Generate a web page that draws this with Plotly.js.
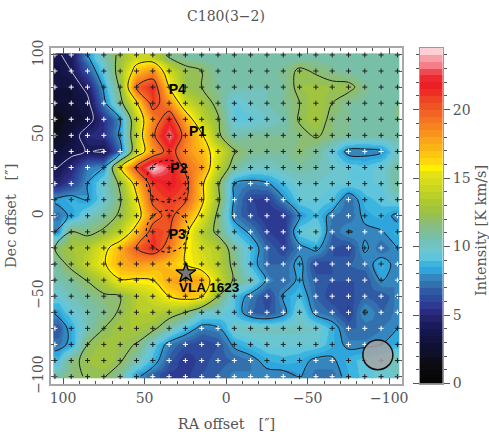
<!DOCTYPE html>
<html><head><meta charset="utf-8">
<script src="https://cdn.plot.ly/plotly-3.0.1.min.js"></script>
<style>html,body{margin:0;padding:0;background:#fff}#c{width:489px;height:434px}</style>
</head><body><div id="c"></div>
<script>
const raOffsets=[105,95,85,75,65,55,45,35,25,15,5,-5,-15,-25,-35,-45,-55,-65,-75,-85,-95,-105];
const decOffsets=[100,90,80,70,60,50,40,30,20,10,0,-10,-20,-30,-40,-50,-60,-70,-80,-90,-100];
const imageRaEdges=[106,100,90,80,70,60,50,40,30,20,10,0,-10,-20,-30,-40,-50,-60,-70,-80,-90,-100,-106];
const imageDecEdges=[101,95,85,75,65,55,45,35,25,15,5,-5,-15,-25,-35,-45,-55,-65,-75,-85,-95,-101];
const intensity=[
[3.8,4.3,8,10.5,12.5,14.5,14,11.5,11,10.8,10.5,10.5,10.5,10.5,10.5,10.8,10.8,10.5,10.5,10.5,10.5,10.5],
[3.3,4,6.5,9.5,13,17,18.5,14.5,12.5,12,10.8,10.5,10.5,10.8,11.2,12.3,11.8,11.2,10.8,10.5,10.5,10.5],
[3,3,4.5,8.3,12.3,20,21.5,16,12.5,12,11,10.5,10.5,10.5,11,12.5,12.7,12.5,12.5,11.2,10.5,10.5],
[2.5,2.8,3.5,7.5,11.3,15.7,21,18.5,14.5,13,11.5,9.3,10,10.5,11,12,13,12,11,10.8,10.5,11],
[1.5,2.5,3.2,5.5,8,14,18.5,21.5,17.5,14,12.2,9.3,9.3,10,10.5,12.2,13,11.5,11,10.8,10.8,11],
[2,3,5,5.5,8.3,14,19.5,23.5,19,16.3,12.3,10.5,11,11,11,11.5,12.2,11.5,11,10.8,10.8,10.8],
[3,3.5,4.1,3.8,7.3,14,18,21,18.5,17,15,12.2,11.2,11,11,11.7,11,9.5,7.5,7.5,7.8,10],
[3.8,5,7.5,8,15.7,20.5,24.5,22.5,19.5,18,14,11,10,10,10.5,10.8,10.5,10,9.5,9.2,9.8,10.8],
[5,6,8,10,12.3,17,21,22,20.8,16.5,12.3,8,7.5,7.8,9,10,10,9.5,9.5,9.5,9.5,11],
[8.2,8.7,8,9.7,11.8,15.5,20.5,21,20.3,16.5,12.5,7.8,6,5.8,7.8,9.5,9.5,9.2,7,8.8,9.2,10],
[7.3,8.2,10,11,12.3,14.8,19,20.8,18,15.3,11.5,7.5,6.3,5.5,5.5,8,9,7.5,7,8.3,8.7,7.6],
[8,12,11.5,12.3,14,17,21,20.2,16.5,13.5,11.5,9,7.7,6,5.5,9.5,10,7,8.1,7.7,7.9,8.6],
[12,13,13.5,15.3,17.5,20,21.5,19,16,14.5,13.5,11,9,7,6,7.5,8.5,6.5,6,8.3,7,8],
[11,12.5,14,15.8,17.5,18,17.5,16.8,16,15,13.5,11.5,8.7,7,7,8.5,6,6.5,7,7.3,8.7,7.5],
[10.5,11,12.1,13.5,15.9,15.8,16,17.7,18,17.5,14.5,11.7,10.3,7.8,7,8.3,6.8,6.5,6.5,6.5,8.1,7.5],
[9.5,10.5,11,11.7,12,13.5,14.5,16,17,16.2,12,9,7.5,6,8.2,9,7,6,6.2,7,6.5,7.5],
[8.2,9.5,10.5,11.2,12.2,13.5,13.5,13,12,10,9.8,9,7,6.5,7.5,10,7.5,7,5.8,8.2,7,7.6],
[6.5,8.5,10.5,12,13,13,12.5,10.5,9,7.5,7.8,10,10.4,10.2,10.2,10.2,10,8.7,7,7,7.5,8],
[7.3,8.3,12,12.8,12.5,11.9,9.5,7.5,6.5,6,6.5,8.3,9,9.6,9.6,9.6,9.5,8.6,7.7,7.7,8,8.5],
[9,11.5,12.5,13,12.2,10.5,8.7,6.7,5.5,6.3,6.8,7,7.5,8.5,8.8,8.5,7.7,7.8,8.7,9.3,9.7,10.5],
[10.5,11.5,12.2,12.1,11,8.3,7,5.8,5.8,6.5,7,7.7,7.5,7.5,7.5,8.1,7.3,7.3,8.5,9.3,9.7,10]
];
const levelColors=["#050506","#08080c","#0b0b10","#0d0d18","#0e0f28","#0f1034","#121340","#15164e","#1a1b5c","#222369","#2a2a80","#2c3a91","#2d4a9c","#2f5ba5","#3371ae","#3585bf","#2ea5dc","#3bb4e0","#5fc5dd","#6cc6cf","#73c2bd","#78bfa8","#82be90","#8cbd73","#95c055","#a0c43f","#adc931","#bad029","#c8d621","#d6dc1a","#e4e214","#fff100","#fed80a","#fdc610","#fcb415","#faa51a","#f8931e","#f68320","#f47421","#f16423","#ef5423","#ee4324","#ed2e25","#ed1f26","#ed2a30","#ef4a52","#f47f88","#f8a0a8","#fdd0d5"];
const levelStep=0.5, zMax=24.5;
const levelEdges=levelColors.map((_,i)=>i*levelStep).concat([zMax]);
const levelMids=levelColors.map((_,i)=>(i+0.5)*levelStep);
const colorscale=[];
levelColors.forEach((c,i)=>{colorscale.push([i/levelColors.length,c]);colorscale.push([(i+1)/levelColors.length,c]);});
const peakLabels=["P4","P1","P2","P3"];
const peakRa=[30,17.5,29,30]; const peakDec=[78,51.5,29,-12.5];
const beamRa=[36,36]; const beamDec=[21.5,-9.6]; const beamR=13;
const cornerBeam={ra:-93,dec:-86.5,r:9.2};
const starRa=[24.7], starDec=[-35.7];

const whiteX=[],whiteY=[],blackX=[],blackY=[];
decOffsets.forEach((d,j)=>raOffsets.forEach((r,i)=>{
  if(intensity[j][i]<8){whiteX.push(r);whiteY.push(d);}else{blackX.push(r);blackY.push(d);}
}));
const FONT="DejaVu Serif";const GRAY="#555";
const data=[
 {type:'heatmap',x:imageRaEdges,y:imageDecEdges,z:intensity,zsmooth:'best',colorscale,zmin:0,zmax:zMax,showscale:false,hoverinfo:'skip'},
 {type:'contour',x:raOffsets,y:decOffsets,z:intensity,autocontour:false,contours:{coloring:'none',start:8,end:20,size:4},line:{color:'#1c1c1c',width:1,smoothing:1},showscale:false,hoverinfo:'skip'},
 {type:'contour',x:raOffsets,y:decOffsets,z:intensity,autocontour:false,contours:{coloring:'none',start:4,end:4,size:1},line:{color:'#c4c4cc',width:1,smoothing:1},showscale:false,hoverinfo:'skip'},
 {type:'scatter',mode:'markers',x:blackX,y:blackY,marker:{symbol:'cross-thin',size:3.6,line:{color:'#222',width:1}},hoverinfo:'skip'},
 {type:'scatter',mode:'markers',x:whiteX,y:whiteY,marker:{symbol:'cross-thin',size:3.6,line:{color:'#fff',width:1}},hoverinfo:'skip'},
 {type:'scatter',mode:'markers',x:starRa,y:starDec,marker:{symbol:'star',size:15,color:'#777',line:{color:'#000',width:1.3}},hoverinfo:'skip'},
 {type:'scatter',mode:'text',x:peakRa,y:peakDec,text:peakLabels,textfont:{family:'Liberation Sans',size:14,color:'#000',weight:700},cliponaxis:false,hoverinfo:'skip'},
 {type:'scatter',mode:'text',x:[10.5],y:[-45.5],text:['VLA 1623'],textfont:{family:'Liberation Sans',size:13.5,color:'#000',weight:700},cliponaxis:false,hoverinfo:'skip'},
 {type:'heatmap',xaxis:'x2',yaxis:'y2',x:[0,1],y:levelEdges,z:levelMids.map(v=>[v]),colorscale,zmin:0,zmax:zMax,showscale:false,hoverinfo:'skip'}
];
const frame={showline:true,linecolor:'#a8a8a8',linewidth:2,mirror:'ticks',showgrid:false,zeroline:false,ticks:'inside',ticklen:6,tickwidth:1,tickcolor:GRAY,dtick:50,
 tickfont:{family:FONT,size:14,color:GRAY},minor:{dtick:10,ticks:'inside',ticklen:3,tickwidth:1,tickcolor:GRAY,showgrid:false}};
const layout={width:489,height:434,margin:{l:0,r:0,t:0,b:0},paper_bgcolor:'#fff',plot_bgcolor:'#fff',showlegend:false,
 title:{text:'C180(3−2)',font:{family:FONT,size:14,color:GRAY},x:226/489,xanchor:'center',y:1-16/434,yanchor:'middle'},
 xaxis:Object.assign({},frame,{domain:[51/489,402/489],anchor:'y',range:[107.4,-107.8],tickvals:[100,50,0,-50,-100],ticktext:['100','50','0','−50','−100'],
   title:{text:'RA offset   [″]',font:{family:FONT,size:14.5,color:GRAY},standoff:14}}),
 yaxis:Object.assign({},frame,{domain:[1-384/434,1-47.7/434],anchor:'x',range:[-104.6,104.5],tickangle:-90,tickvals:[100,50,0,-50,-100],ticktext:['100','50','0','−50','−100'],
   title:{text:'Dec offset   [″]',font:{family:FONT,size:14.5,color:GRAY},standoff:10}}),
 xaxis2:{domain:[419.6/489,443/489],anchor:'y2',range:[0,1],showticklabels:false,ticks:'',showgrid:false,zeroline:false,showline:true,linecolor:'#999',linewidth:1,mirror:true},
 yaxis2:{domain:[1-383.5/434,1-48/434],anchor:'x2',side:'right',range:[0,zMax],dtick:5,ticks:'outside',ticklen:6,tickwidth:1,tickcolor:GRAY,showline:true,linecolor:'#999',linewidth:1,mirror:'ticks',showgrid:false,zeroline:false,
   tickfont:{family:FONT,size:14,color:GRAY},minor:{dtick:1,ticks:'outside',ticklen:3,tickwidth:1,tickcolor:GRAY,showgrid:false}},
 annotations:[{text:'Intensity [K km/s]',xref:'paper',yref:'paper',x:481/489,y:1-231/434,xanchor:'center',yanchor:'middle',textangle:-90,showarrow:false,font:{family:FONT,size:14.5,color:GRAY}}],
 shapes:[
  ...beamRa.map((r,i)=>({type:'circle',xref:'x',yref:'y',x0:r-beamR,x1:r+beamR,y0:beamDec[i]-beamR,y1:beamDec[i]+beamR,line:{color:'#000',width:1.1,dash:'dot'}})),
  {type:'circle',xref:'x',yref:'y',x0:cornerBeam.ra-cornerBeam.r,x1:cornerBeam.ra+cornerBeam.r,y0:cornerBeam.dec-cornerBeam.r,y1:cornerBeam.dec+cornerBeam.r,fillcolor:'rgba(165,165,165,0.85)',line:{color:'#111',width:1.5}}
 ]
};
Plotly.newPlot('c',data,layout,{displayModeBar:false,staticPlot:true});
</script></body></html>
